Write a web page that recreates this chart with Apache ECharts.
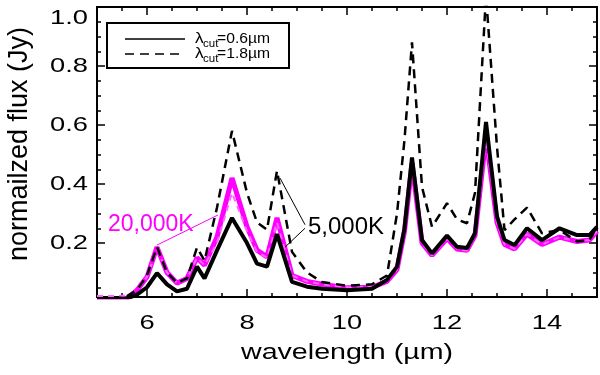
<!DOCTYPE html>
<html>
<head>
<meta charset="utf-8">
<script src="https://cdn.jsdelivr.net/npm/echarts@6/dist/echarts.min.js"></script>
<style>
html,body{margin:0;padding:0;background:#fff;}
#c{width:600px;height:375px;}
</style>
</head>
<body>
<div id="c"></div>
<script>
// ---- data ----
const wavelength = [5.0,5.2,5.4,5.6,5.8,6.0,6.2,6.4,6.6,6.8,7.0,7.15,7.4,7.7,8.0,8.2,8.4,8.6,8.9,9.2,9.5,10.0,10.5,10.8,11.0,11.15,11.3,11.5,11.7,12.0,12.2,12.4,12.56,12.78,13.0,13.15,13.35,13.6,13.9,14.25,14.6,14.85,15.0];
const k5000_cut06 = [0.01,0.01,0.01,0.012,0.025,0.05,0.098,0.06,0.036,0.045,0.12,0.08,0.175,0.285,0.2,0.13,0.12,0.23,0.068,0.052,0.045,0.04,0.045,0.075,0.12,0.25,0.49,0.21,0.165,0.225,0.187,0.183,0.233,0.61,0.29,0.21,0.193,0.25,0.21,0.25,0.227,0.227,0.255];
const k5000_cut18 = [0.01,0.01,0.012,0.02,0.04,0.09,0.186,0.1,0.065,0.08,0.185,0.14,0.32,0.58,0.37,0.27,0.245,0.445,0.17,0.1,0.068,0.055,0.06,0.09,0.3,0.55,0.88,0.39,0.255,0.335,0.28,0.267,0.37,1.04,0.525,0.244,0.28,0.32,0.233,0.244,0.205,0.21,0.255];
const k20000_cut06 = [0.005,0.005,0.005,0.012,0.04,0.085,0.186,0.1,0.064,0.08,0.15,0.125,0.22,0.42,0.255,0.176,0.153,0.285,0.09,0.07,0.06,0.048,0.05,0.07,0.11,0.24,0.47,0.2,0.158,0.215,0.18,0.175,0.225,0.56,0.27,0.195,0.18,0.23,0.195,0.22,0.205,0.21,0.24];
const k20000_cut18 = [0.02,0.02,0.02,0.022,0.04,0.085,0.18,0.1,0.065,0.08,0.15,0.125,0.2,0.37,0.24,0.17,0.15,0.27,0.09,0.07,0.06,0.05,0.052,0.072,0.11,0.24,0.46,0.2,0.158,0.215,0.18,0.175,0.225,0.55,0.27,0.195,0.18,0.23,0.195,0.22,0.205,0.21,0.24];
const xTickLabels = [6,8,10,12,14];
const yTickLabels = [0.2,0.4,0.6,0.8,1.0];
const yMinorTicks = [0.05,0.1,0.15,0.25,0.3,0.35,0.45,0.5,0.55,0.65,0.7,0.75,0.85,0.9,0.95];
const xRange = [5,15];
const yRange = [0.017,1.0];
const xTitle = 'wavelength (\u00b5m)';
const yTitle = 'normailzed flux (Jy)';
const legendLabels = ['0.6\u00b5m','1.8\u00b5m'];
const annot20000 = {text:'20,000K', at:[5.22,0.261], line:[[6.2,0.193],[7.42,0.295]]};
const annot5000 = {text:'5,000K', at:[9.22,0.254], lines:[[[9.16,0.262],[8.66,0.42]],[[9.16,0.25],[8.76,0.186]]]};

const FONT = '"Liberation Sans", Arial, Helvetica, sans-serif';
const pairs = arr => wavelength.map((x,i)=>[x,arr[i]]);

const chart = echarts.init(document.getElementById('c'), null, {renderer:'canvas'});
const axisLine = {show:true, lineStyle:{color:'#000', width:2}};
const tickStyle = {color:'#000', width:1.5};

function xAx(opts){
  return Object.assign({type:'value', min:xRange[0], max:xRange[1], splitLine:{show:false},
    axisLine:axisLine, axisLabel:{show:false}}, opts);
}
function yAx(opts){
  return Object.assign({type:'value', min:yRange[0], max:yRange[1], splitLine:{show:false},
    axisLine:axisLine, axisLabel:{show:false}}, opts);
}

chart.setOption({
  animation:false,
  backgroundColor:'#fff',
  grid:{left:97, right:3, top:7, bottom:78, containLabel:false},
  xAxis:[
    xAx({position:'bottom', interval:0.5, axisTick:{inside:true, length:4, lineStyle:tickStyle}}),
    xAx({position:'bottom', axisTick:{inside:true, length:8, lineStyle:tickStyle, customValues:xTickLabels}}),
    xAx({position:'top', interval:0.5, axisTick:{inside:true, length:4, lineStyle:tickStyle}}),
    xAx({position:'top', axisTick:{inside:true, length:8, lineStyle:tickStyle, customValues:xTickLabels}})
  ],
  yAxis:[
    yAx({position:'left', axisTick:{inside:true, length:8, lineStyle:tickStyle, customValues:yTickLabels}}),
    yAx({position:'left', axisTick:{inside:true, length:4, lineStyle:tickStyle, customValues:yMinorTicks}}),
    yAx({position:'right', axisTick:{inside:true, length:8, lineStyle:tickStyle, customValues:yTickLabels}}),
    yAx({position:'right', axisTick:{inside:true, length:4, lineStyle:tickStyle, customValues:yMinorTicks}})
  ],
  series:[
    {type:'line', name:'20000K cut0.6', data:pairs(k20000_cut06), symbol:'none', clip:true, z:2,
      lineStyle:{color:'#ff00ff', width:5}},
    {type:'line', name:'20000K cut1.8', data:pairs(k20000_cut18), symbol:'none', clip:true, z:3,
      lineStyle:{color:'#ff66ff', width:2, type:[6,5]}},
    {type:'line', name:'5000K cut0.6', data:pairs(k5000_cut06), symbol:'none', clip:true, z:4,
      lineStyle:{color:'#000', width:4}},
    {type:'line', name:'5000K cut1.8', data:pairs(k5000_cut18), symbol:'none', clip:true, z:5,
      lineStyle:{color:'#000', width:2.5, type:[9,6]}}
  ]
});

function px(p){ return chart.convertToPixel({xAxisIndex:0, yAxisIndex:0}, p); }
const g = [];
const SX = 1.3; // horizontal stretch of the reference lettering
// tick labels
xTickLabels.forEach(v=>{
  const p = px([v, yRange[0]]);
  g.push({type:'text', x:p[0], y:p[1]+26, scaleX:SX,
    style:{text:String(v), font:'21px '+FONT, fill:'#000', textAlign:'center', textVerticalAlign:'middle'}});
});
yTickLabels.forEach(v=>{
  const p = px([xRange[0], v]);
  const yy = (v === yRange[1]) ? p[1]+11 : p[1];
  g.push({type:'text', x:p[0]-9, y:yy, scaleX:SX,
    style:{text:v.toFixed(1), font:'21px '+FONT, fill:'#000', textAlign:'right', textVerticalAlign:'middle'}});
});
// axis titles
{
  const a = px([xRange[0], yRange[0]]), b = px([xRange[1], yRange[0]]);
  g.push({type:'text', x:(a[0]+b[0])/2, y:a[1]+56, scaleX:SX,
    style:{text:xTitle, font:'22px '+FONT, fill:'#000', textAlign:'center', textVerticalAlign:'middle'}});
  const c = px([xRange[0], yRange[1]]);
  g.push({type:'text', x:20, y:(a[1]+c[1])/2 - 8, rotation:Math.PI/2,
    style:{text:yTitle, font:'27px '+FONT, fill:'#000', textAlign:'center', textVerticalAlign:'middle'}});
}
// legend box
g.push({type:'rect', shape:{x:107, y:23, width:182, height:45}, style:{fill:'#fff', stroke:'#000', lineWidth:2}, z:100});
g.push({type:'line', shape:{x1:125, y1:39, x2:185, y2:39}, style:{stroke:'#000', lineWidth:1.3}, z:101});
g.push({type:'line', shape:{x1:125, y1:54, x2:185, y2:54}, style:{stroke:'#000', lineWidth:1.3, lineDash:[9,6]}, z:101});
[39,54].forEach((yy,i)=>{
  g.push({type:'text', x:195, y:yy, scaleX:1.15, style:{text:'\u03bb', font:'15px '+FONT, fill:'#000', textVerticalAlign:'middle'}, z:101});
  g.push({type:'text', x:203, y:yy+5, scaleX:1.15, style:{text:'cut', font:'10px '+FONT, fill:'#000', textVerticalAlign:'middle'}, z:101});
  g.push({type:'text', x:217, y:yy, scaleX:1.12, style:{text:'='+legendLabels[i], font:'14px '+FONT, fill:'#000', textVerticalAlign:'middle'}, z:101});
});
// annotations
{
  const t = px(annot20000.at);
  g.push({type:'text', x:t[0], y:t[1], style:{text:annot20000.text, font:'23px '+FONT, fill:'#ff00ff', textVerticalAlign:'middle'}, z:50});
  const a = px(annot20000.line[0]), b = px(annot20000.line[1]);
  g.push({type:'line', shape:{x1:a[0], y1:a[1], x2:b[0], y2:b[1]}, style:{stroke:'#ff00ff', lineWidth:1}, z:50});
}
{
  const t = px(annot5000.at);
  g.push({type:'text', x:t[0], y:t[1], style:{text:annot5000.text, font:'24px '+FONT, fill:'#000', textVerticalAlign:'middle'}, z:50});
  annot5000.lines.forEach(l=>{
    const a = px(l[0]), b = px(l[1]);
    g.push({type:'line', shape:{x1:a[0], y1:a[1], x2:b[0], y2:b[1]}, style:{stroke:'#000', lineWidth:1}, z:50});
  });
}
chart.setOption({graphic:g});
</script>
</body>
</html>
